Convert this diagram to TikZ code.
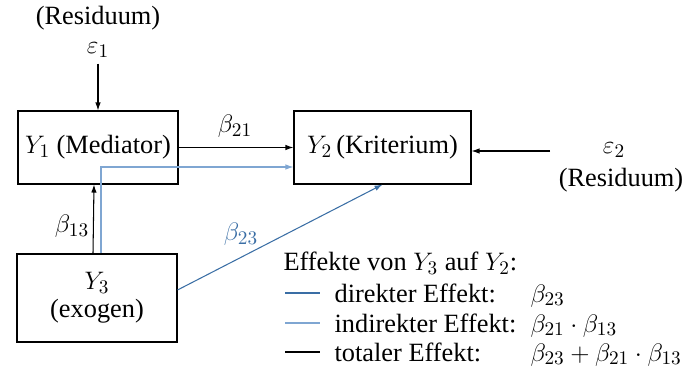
\documentclass[tikz,border=0pt]{standalone}
\usepackage{fontspec}
\setmainfont{Liberation Serif}
\usepackage{xcolor}
\usepackage{tikz}
\usetikzlibrary{positioning, arrows.meta, calc}

\definecolor{dirblue}{HTML}{3A6EA5}
\definecolor{indblue}{HTML}{7FA6D2}

\begin{document}
\begin{tikzpicture}[x=0.02cm, y=-0.02cm, line width=0.6pt,
    font=\fontsize{15}{18}\selectfont,
    >={Latex[length=1.6mm,width=1.1mm]},
    box/.style={draw, rectangle, minimum height=1.46cm, inner sep=2pt},
    direct/.style={dirblue},
    indirect/.style={indblue},
    legtext/.style={right, text=black, inner sep=0pt, xshift=8pt}]

    \useasboundingbox (0,0) rectangle (697,379);

    % ================= Kästen (Boxes) =================
    \node[box, minimum width=3.2cm]  (Y1) at (98, 147.5) {$Y_1$ (Mediator)};
    \node[box, minimum width=3.54cm] (Y2) at (382.5, 147.5) {$Y_2$\,(Kriterium)};
    \node[box, minimum width=3.2cm, minimum height=1.76cm, align=center] (Y3) at (97, 298)
        {$Y_3$\\[-2pt](exogen)};

    % ================= Residuen =================
    \node (res1) at (98, 18) {(Residuum)};
    \node (eps1) at (98, 50) {$\varepsilon_1$};
    \node (eps2) at (614, 150) {$\varepsilon_2$};
    \node (res2) at (621, 180) {(Residuum)};
    \coordinate (e2start) at (550, 151);

    % ================= Pfade (Paths) =================
    \draw[->] (eps1.south) -- (Y1.north);
    \draw[->] (e2start) -- (e2start -| Y2.east);
    \draw[->] (Y1.east) -- (Y2.west);
    \draw[->] ([xshift=-0.08cm]Y3.north) -- ([xshift=-0.08cm]Y1.south);
    \draw[->, indirect] ([xshift=0.08cm]Y3.north) |- ([yshift=-0.39cm]Y2.west);
    \draw[->, direct] ([yshift=0.16cm]Y3.east) -- (Y2.south);

    % Koeffizienten
    \node (b21) at (235, 126) {$\beta_{21}$};
    \node (b13) at (72, 226) {$\beta_{13}$};
    \node[text=dirblue] (b23) at (241, 234) {$\beta_{23}$};

    % ================= Legende =================
    \node[anchor=west, inner sep=0pt] (leg) at (283, 263) {Effekte von $Y_3$ auf $Y_2$:};
    \coordinate (fx) at (530, 0);

    \draw[direct] (285, 293) -- (320, 293) node[legtext] (lbl1) {direkter Effekt:};
    \draw[indirect] (285, 323) -- (320, 323) node[legtext] (lbl2) {indirekter Effekt:};
    \draw (285, 352) -- (320, 352) node[legtext] (lbl3) {totaler Effekt:};

    \node[anchor=base west, inner sep=0pt] (f1) at (lbl1.base -| fx) {$\beta_{23}$};
    \node[anchor=base west, inner sep=0pt] (f2) at (lbl2.base -| fx) {$\beta_{21}\cdot\beta_{13}$};
    \node[anchor=base west, inner sep=0pt] (f3) at (lbl3.base -| fx) {$\beta_{23}+\beta_{21}\cdot\beta_{13}$};

\end{tikzpicture}
\end{document}
